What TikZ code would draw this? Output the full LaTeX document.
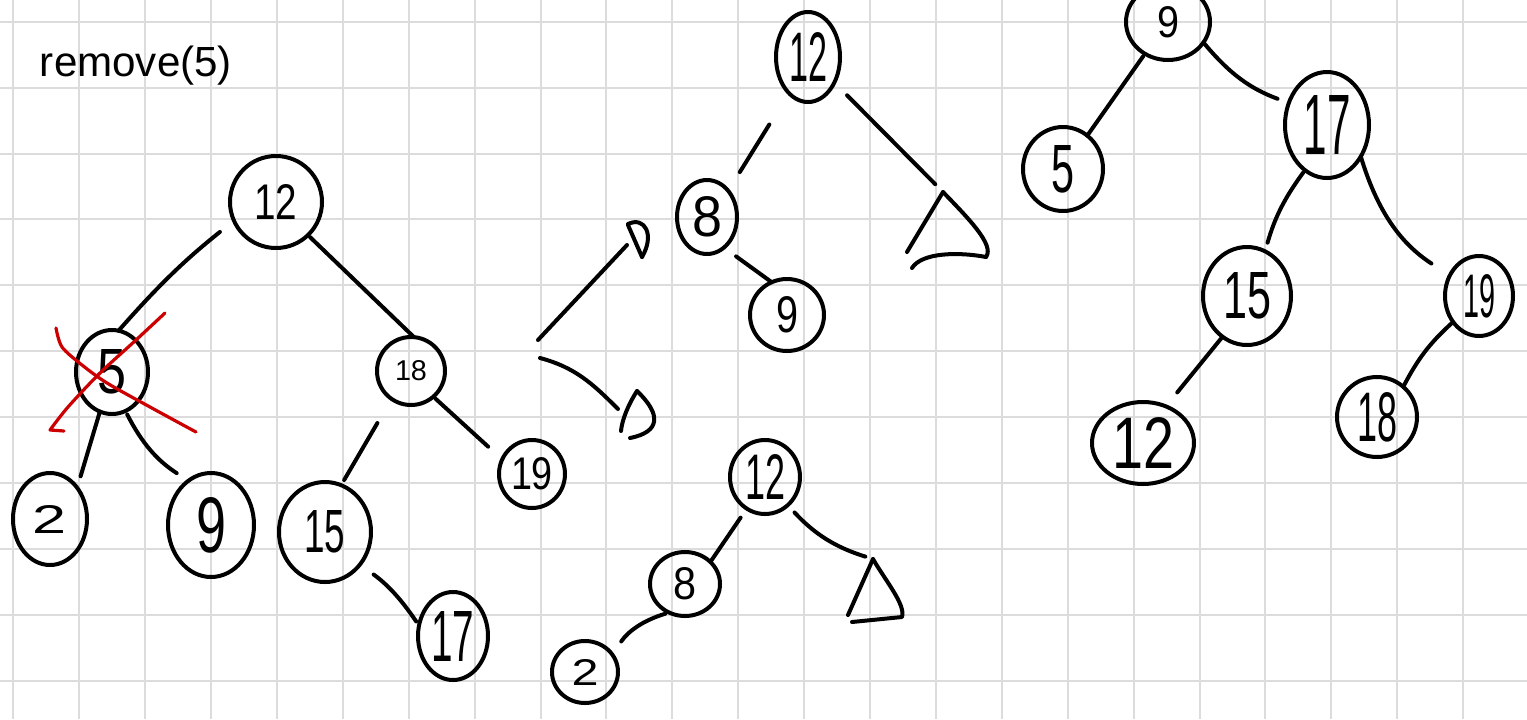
\documentclass[tikz,border=0pt]{standalone}
\usepackage{fontspec}
\setmainfont{Liberation Sans}
\usetikzlibrary{shapes.geometric}
\definecolor{xred}{RGB}{204,0,0}
\definecolor{gridgray}{RGB}{220,220,220}
\tikzset{
  nd/.style={draw, ellipse, line width=2pt, inner sep=0pt, outer sep=0pt},
  edge/.style={line width=2pt, line cap=round, line join=round},
  cross/.style={line width=1.6pt, line cap=round, line join=round, draw=xred},
  gridline/.style={line width=1pt, draw=gridgray},
}
\newcommand\tnode[8]{\node[nd, minimum width=#4pt, minimum height=#5pt, label={center:{\resizebox{#7pt}{#8pt}{#6}}}] (#1) at (#2,#3) {};}
\begin{document}
\begin{tikzpicture}[x=0.5pt, y=-0.5pt]
\fill[white] (0,0) rectangle (1527,719);
\useasboundingbox (0,0) rectangle (1527,719);
% grid
\foreach \i in {0,...,22} \draw[gridline] ({13.3+65.9*\i},0) -- ({13.3+65.9*\i},719);
\foreach \j in {0,...,10} \draw[gridline] (0,{21.7+65.9*\j}) -- (1527,{21.7+65.9*\j});

% title
\node (title) at (136,66) {\resizebox{96pt}{!}{remove(5)}};

% ---- tree 1 ----
\tnode{t1r}{276}{202}{46}{46}{12}{21.5}{17.5}
\tnode{t1a}{112}{372}{36}{42}{5}{14.5}{22}
\tnode{t1b}{411}{371}{34}{34}{18}{16}{10}
\tnode{t1c}{50}{519}{37}{46}{2}{17}{14}
\tnode{t1d}{211}{525}{43}{52}{9}{15}{27.5}
\tnode{t1e}{325}{532}{46}{50}{15}{20.5}{21}
\tnode{t1f}{532}{474}{33}{34}{19}{21}{16}
\tnode{t1g}{453}{636}{35}{44}{17}{21.5}{25}
\draw[edge, shorten <=9pt] (t1r.204) to[bend right=5] (t1a.81);
\draw[edge, shorten <=1.5pt] (t1r.314) -- (t1b.85);
\draw[edge, shorten >=6pt] (t1a.253) -- (t1c.49);
\draw[edge, shorten <=2pt, shorten >=7pt] (t1a.289) to[bend right=15] (t1d.117);
\draw[edge, shorten <=14pt, shorten >=3pt] (t1b.235) -- (t1e.71);
\draw[edge, shorten <=1.5pt, shorten >=9.5pt] (t1b.311) -- (t1f.154);
\draw[edge, shorten <=8.5pt, shorten >=2.5pt] (t1e.317) to[bend left=10] (t1g.163);
% red cross
\draw[cross] plot[smooth] coordinates {(56,328) (62,347) (82,365) (107,383) (150,407) (196,432)};
\draw[cross] plot[smooth] coordinates {(165,313) (136,340) (100,373) (68,407) (50,430)} -- (64,431);

% ---- split arrows ----
\coordinate (s1) at (538,340);
\coordinate (a1) at (627,245);
\coordinate (s2) at (540,358);
\coordinate (a2) at (618,409);
\draw[edge] (s1) -- (a1);
\draw[edge] (a1) ++(1,-20) -- (642,257);
\draw[edge] (628,224) .. controls (645,216) and (655,235) .. (642,257);
\draw[edge] (s2) to[out=-15, in=135] (a2);
\draw[edge] (637,391) .. controls (628,405) and (622,420) .. (621,431);
\draw[edge] (630,438) .. controls (660,432) and (662,415) .. (637,391);

% ---- tree 2 (top middle) ----
\tnode{t2r}{808}{57}{32}{45}{12}{19}{24.5}
\tnode{t2a}{707}{217}{30}{37}{8}{15}{20}
\tnode{t2b}{787}{315}{37}{36}{9}{11}{18}
\coordinate (tri1) at (943,192);
\draw[edge, shorten <=18.5pt, shorten >=11pt] (t2r.242) -- (t2a.51);
\draw[edge, shorten <=7.5pt] (t2a.299) -- (t2b.115);
\draw[edge, shorten <=9pt, shorten >=5.5pt] (t2r.316) -- (tri1);
\draw[edge] (tri1) -- (907,252);
\draw[edge] (tri1) .. controls (968,218) and (995,245) .. (986,257);
\draw[edge] (986,257) .. controls (960,252) and (922,252) .. (912,268);

% ---- tree 3 (bottom middle) ----
\tnode{t3r}{765}{477}{35}{37}{12}{20}{22.5}
\tnode{t3a}{685}{584}{35}{32}{8}{11.5}{16}
\tnode{t3b}{585}{672}{33}{31}{2}{13.5}{13}
\coordinate (tri3) at (873,559);
\draw[edge, shorten <=5.5pt] (t3r.240) -- (t3a.41);
\draw[edge, shorten <=5pt, shorten >=4pt] (t3r.309) to[bend right=15] (tri3);
\draw[edge, shorten <=2pt, shorten >=8pt] (t3a.241) to[bend right=20] (t3b.32);
\draw[edge] (tri3) -- (848,615);
\draw[edge] (tri3) .. controls (885,580) and (906,605) .. (902,617) -- (852,622);

% ---- tree 4 (right) ----
\tnode{t4r}{1168}{22}{42}{38}{9}{11}{15.5}
\tnode{t4a}{1063}{169}{40}{42}{5}{11.5}{23.5}
\tnode{t4b}{1327}{125}{42}{53}{17}{23.5}{29.5}
\tnode{t4c}{1247}{296}{44}{49}{15}{24}{23}
\tnode{t4d}{1479}{296}{34}{40}{19}{16}{21.5}
\tnode{t4e}{1143}{443}{51}{41}{12}{31}{25.5}
\tnode{t4f}{1377}{417}{40}{40}{18}{20}{24.5}
\draw[edge, shorten <=1.5pt] (t4r.234) -- (t4a.54);
\draw[edge, shorten >=6pt] (t4r.330) to[bend right=15] (t4b.150);
\draw[edge, shorten <=1.5pt, shorten >=4.5pt] (t4b.244) to[bend right=10] (t4c.68);
\draw[edge, shorten >=11pt] (t4b.317) to[bend right=20] (t4d.145);
\draw[edge, shorten >=9pt] (t4c.239) -- (t4e.58);
\draw[edge, shorten <=1pt] (t4d.225) to[bend right=10] (t4f.49);
\end{tikzpicture}
\end{document}
